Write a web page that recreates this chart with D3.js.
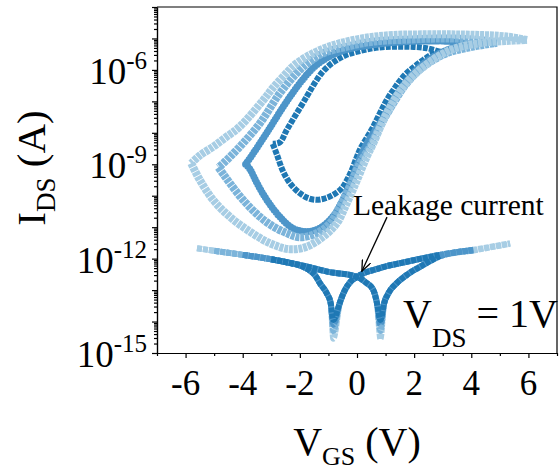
<!DOCTYPE html>
<html lang="en">
<head>
<meta charset="UTF-8">
<title>IDS - VGS hysteresis</title>
<style>
  body { margin: 0; background: #fff; }
  svg { display: block; }
  text { font-family: 'Liberation Serif', 'Times New Roman', Times, serif; }
  .axis path, .axis line { stroke: #000; stroke-width: 1.2; }
  .axis text { display: none; }
</style>
</head>
<body>
<div id="chart"></div>
<script src="https://d3js.org/d3.v7.min.js"></script>
<script>
// [V_GS (V), log10(I_DS / A)]
const sweepRanges = [3, 4, 5, 6];
const sweepColors = ['#1f78b4', '#4d95c9', '#7cb4da', '#a7cde4'];

const fwd3 = [[-2.95,-8.35],[-2.8,-8.7],[-2.6,-9.2],[-2.35,-9.6],[-2.0,-9.92],[-1.7,-10.08],[-1.4,-10.13],[-1.1,-10.08],[-0.85,-9.98],[-0.55,-9.78],[-0.35,-9.5],[-0.18,-9.18],[-0.02,-8.8],[0.12,-8.5],[0.35,-8.15],[0.57,-7.8],[0.8,-7.38],[1.04,-6.96],[1.3,-6.6],[1.62,-6.21],[2.0,-5.9],[2.32,-5.68],[2.6,-5.52],[2.9,-5.42]];
const rev3 = [[2.9,-5.42],[2.44,-5.31],[2.0,-5.27],[1.5,-5.26],[1.0,-5.27],[0.57,-5.31],[0.1,-5.4],[-0.36,-5.52],[-0.7,-5.68],[-0.95,-5.84],[-1.2,-6.06],[-1.41,-6.32],[-1.6,-6.6],[-1.76,-6.85],[-2.11,-7.38],[-2.46,-7.91],[-2.7,-8.3],[-2.95,-8.35]];

const fwd4 = [[-3.9,-9.0],[-3.75,-9.15],[-3.5,-9.6],[-3.15,-10.14],[-2.7,-10.67],[-2.25,-11.03],[-1.75,-11.14],[-1.3,-11.03],[-0.85,-10.67],[-0.5,-10.14],[-0.15,-9.4],[0.1,-8.8],[0.4,-8.25],[0.8,-7.7],[1.27,-6.96],[1.97,-6.1],[2.67,-5.58],[3.3,-5.32],[3.9,-5.18]];
const rev4 = [[3.9,-5.18],[3.3,-5.1],[2.5,-5.08],[1.74,-5.1],[0.57,-5.2],[-0.6,-5.42],[-1.41,-5.84],[-2.0,-6.42],[-2.58,-7.17],[-3.16,-8.0],[-3.63,-8.65],[-3.9,-9.0]];

const fwd5 = [[-4.85,-9.1],[-4.65,-9.35],[-4.45,-9.6],[-3.98,-10.14],[-3.4,-10.67],[-2.93,-10.98],[-2.46,-11.19],[-2.0,-11.32],[-1.41,-11.19],[-0.95,-10.88],[-0.6,-10.35],[-0.25,-9.71],[0.1,-8.97],[0.46,-8.44],[0.8,-7.8],[1.27,-7.06],[1.74,-6.42],[2.32,-5.9],[3.14,-5.47],[4.07,-5.26],[4.9,-5.14]];
const rev5 = [[4.9,-5.14],[4.4,-5.06],[3.6,-5.01],[2.9,-5.0],[1.7,-5.04],[0.57,-5.1],[-0.3,-5.25],[-1.18,-5.47],[-1.6,-5.7],[-2.0,-6.0],[-2.7,-6.74],[-3.4,-7.7],[-4.1,-8.44],[-4.68,-8.97],[-4.85,-9.1]];

const fwd6 = [[-5.8,-8.97],[-5.5,-9.5],[-5.03,-10.14],[-4.45,-10.67],[-3.75,-11.14],[-3.05,-11.51],[-2.35,-11.7],[-1.76,-11.62],[-1.18,-11.3],[-0.71,-10.88],[-0.36,-10.24],[0.0,-9.5],[0.34,-8.76],[0.57,-8.33],[1.04,-7.38],[1.62,-6.53],[2.32,-5.9],[3.26,-5.37],[4.31,-5.15],[5.2,-5.08],[5.95,-5.05]];
const rev6 = [[5.95,-5.05],[5.24,-4.94],[4.0,-4.88],[2.9,-4.87],[1.27,-4.89],[0.3,-4.98],[-0.6,-5.15],[-1.2,-5.33],[-1.76,-5.58],[-2.2,-5.85],[-2.58,-6.21],[-2.95,-6.58],[-3.28,-6.96],[-4.1,-7.8],[-4.6,-8.15],[-5.03,-8.44],[-5.5,-8.72],[-5.8,-8.97]];

// gate leakage, two sweep directions (cusp point added per sweep)
const leakFwd = [[-5.6,-11.67],[-5,-11.75],[-4,-11.88],[-3,-12.02],[-2.3,-12.15],[-2.0,-12.22],[-1.7,-12.35],[-1.45,-12.55],[-1.3,-12.78],[-1.06,-13.1],[-0.92,-13.42],[-0.6,-13.4],[-0.45,-13.05],[-0.22,-12.73],[0,-12.58],[0.8,-12.3],[1.74,-12.1],[2.9,-11.88],[4.07,-11.72],[5.36,-11.51]];
const leakRev = [[-5.6,-11.67],[-5,-11.75],[-4,-11.88],[-3,-12.02],[-2,-12.2],[-1,-12.42],[0,-12.58],[0.3,-12.75],[0.57,-13.0],[0.7,-13.42],[0.95,-13.42],[1.1,-13.1],[1.39,-12.78],[1.74,-12.52],[2.32,-12.2],[2.9,-11.92],[4.07,-11.74],[5.36,-11.53]];
const cuspV = [-0.83, 0.82];
const cuspDepth = [-13.95, -14.1, -14.3, -14.55];
const leakRange = [[-3, 3.2], [-4, 4.3], [-5, 4.3], [-5.6, 5.4]];

const xTicks = [-6, -4, -2, 0, 2, 4, 6];
const yLabelExp = [-6, -9, -12, -15];

const loops = [[fwd3, rev3], [fwd4, rev4], [fwd5, rev5], [fwd6, rev6]];
const markerStyle = [
  { w: 6, dash: '5 1.2', cap: 'butt' },     // squares
  { w: 7, dash: '0 3', cap: 'round' },      // circles
  { w: 8, dash: '4 0.8', cap: 'butt' },     // up triangles
  { w: 8, dash: '4 0.8', cap: 'butt' }      // down triangles
];

const FONT = "'Liberation Serif', 'Times New Roman', Times, serif";
const W = 559, H = 473;
const svg = d3.select('#chart').append('svg')
  .attr('width', W).attr('height', H)
  .attr('font-family', FONT);

const x = d3.scaleLinear().domain([-7, 7]).range([157, 557]);
const y = d3.scaleLog().domain([1e-15, 1e-4]).range([353, 7]);
const px = d => x(d[0]);
const py = d => y(Math.pow(10, d[1]));

const loopLine = d3.line().x(px).y(py).curve(d3.curveCatmullRom.alpha(0.5));
const leakLine = d3.line().x(px).y(py).curve(d3.curveMonotoneX);

// leakage (light first, dark on top)
for (let i = 3; i >= 0; i--) {
  const [lo, hi] = leakRange[i];
  [leakFwd, leakRev].forEach((arr, k) => {
    const pts = arr.filter(d => d[0] >= lo && d[0] <= hi)
      .concat([[cuspV[k], cuspDepth[i]]])
      .sort((a, b) => a[0] - b[0]);
    svg.append('path')
      .attr('d', leakLine(pts))
      .attr('fill', 'none')
      .attr('stroke', sweepColors[i])
      .attr('stroke-width', 6)
      .attr('stroke-dasharray', '5 1');
  });
}

// transfer loops (dark first, light on top)
loops.forEach((branches, i) => {
  branches.forEach(b => {
    svg.append('path')
      .attr('d', loopLine(b))
      .attr('fill', 'none')
      .attr('stroke', sweepColors[i])
      .attr('stroke-width', markerStyle[i].w)
      .attr('stroke-linecap', markerStyle[i].cap)
      .attr('stroke-dasharray', markerStyle[i].dash);
  });
});

// axes
const xMinor = d3.range(-7, 8, 1).filter(v => v % 2 !== 0);
svg.append('g').attr('class', 'axis').attr('transform', `translate(0,${y.range()[0]})`)
  .call(d3.axisBottom(x).tickValues(xTicks).tickSize(5).tickSizeOuter(0));
svg.append('g').attr('class', 'axis').attr('transform', `translate(0,${y.range()[0]})`)
  .call(d3.axisBottom(x).tickValues(xMinor).tickSize(3).tickSizeOuter(0));

const yMajor = d3.range(-15, -3).map(e => Math.pow(10, e));
const yMinor = [];
d3.range(-15, -4).forEach(e => { for (let m = 2; m < 10; m++) yMinor.push(m * Math.pow(10, e)); });
svg.append('g').attr('class', 'axis').attr('transform', `translate(${x.range()[0]},0)`)
  .call(d3.axisLeft(y).tickValues(yMajor).tickSize(5).tickSizeOuter(0));
svg.append('g').attr('class', 'axis').attr('transform', `translate(${x.range()[0]},0)`)
  .call(d3.axisLeft(y).tickValues(yMinor).tickSize(3).tickSizeOuter(0));

// frame top/right
svg.append('path')
  .attr('d', `M${x.range()[0]},${y.range()[1]}H${x.range()[1]}V${y.range()[0]}`)
  .attr('fill', 'none').attr('stroke', '#000').attr('stroke-width', 1.2);

// tick labels
svg.append('g').selectAll('text').data(xTicks).join('text')
  .attr('font-family', FONT)
  .attr('x', d => x(d)).attr('y', 395)
  .attr('text-anchor', 'middle').attr('font-size', 35)
  .text(d => String(d));

const yl = svg.append('g').selectAll('text').data(yLabelExp).join('text')
  .attr('font-family', FONT)
  .attr('x', 147).attr('y', d => y(Math.pow(10, d)) + 14)
  .attr('text-anchor', 'end').attr('font-size', 37);
yl.append('tspan').text('10');
yl.append('tspan').attr('font-size', 25).attr('dy', -15).text(d => String(d));

// axis titles
const xt = svg.append('text').attr('font-family', FONT).attr('x', 357).attr('y', 455)
  .attr('text-anchor', 'middle').attr('font-size', 40);
xt.append('tspan').text('V');
xt.append('tspan').attr('font-size', 26).attr('dy', 10).text('GS');
xt.append('tspan').attr('dy', -10).text(' (V)');

const ytl = svg.append('text').attr('font-family', FONT).attr('transform', 'translate(45,168) rotate(-90)')
  .attr('text-anchor', 'middle').attr('font-size', 41);
ytl.append('tspan').text('I');
ytl.append('tspan').attr('font-size', 27).attr('dy', 10).text('DS');
ytl.append('tspan').attr('dy', -10).text(' (A)');

// annotations
svg.append('defs').append('marker')
  .attr('id', 'arrow').attr('viewBox', '0 -5 12 10')
  .attr('refX', 11).attr('refY', 0)
  .attr('markerWidth', 12).attr('markerHeight', 10)
  .attr('markerUnits', 'userSpaceOnUse').attr('orient', 'auto')
  .append('path').attr('d', 'M0,-4.5L11,0L0,4.5')
  .attr('fill', 'none').attr('stroke', '#000').attr('stroke-width', 1.3);

svg.append('line')
  .attr('x1', x(1.05)).attr('y1', y(Math.pow(10, -10.68)))
  .attr('x2', x(0.17)).attr('y2', y(Math.pow(10, -12.4)))
  .attr('stroke', '#000').attr('stroke-width', 1.3)
  .attr('marker-end', 'url(#arrow)');

svg.append('text').attr('font-family', FONT).attr('x', 353).attr('y', 215)
  .attr('font-size', 29.5).text('Leakage current');

const vds = svg.append('text').attr('font-family', FONT).attr('x', 403).attr('y', 327).attr('font-size', 40);
vds.append('tspan').text('V');
vds.append('tspan').attr('font-size', 27).attr('dy', 20).text('DS');
vds.append('tspan').attr('dy', -20).text(' = 1V');
</script>
</body>
</html>
